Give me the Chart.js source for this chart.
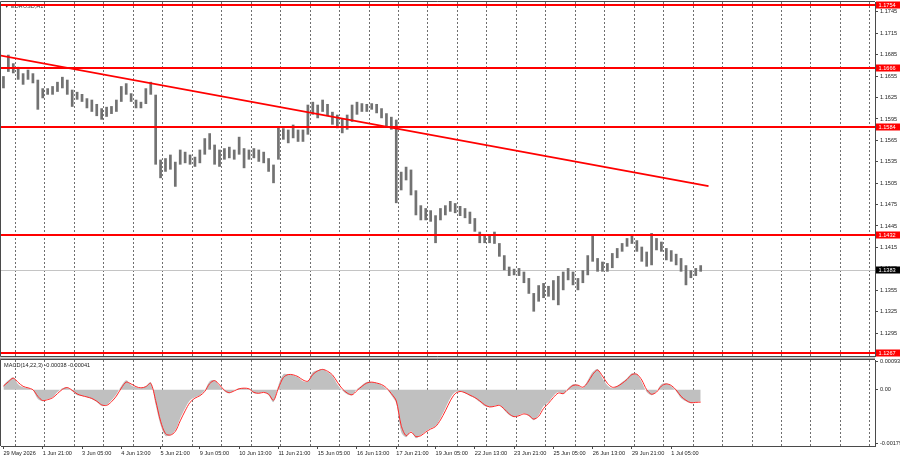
<!DOCTYPE html>
<html><head><meta charset="utf-8">
<script src="https://cdn.jsdelivr.net/npm/chart.js"></script>
<style>
html,body{margin:0;padding:0;background:#fff;width:900px;height:460px;overflow:hidden}
#w1{position:absolute;left:0;top:0;width:900px;height:357px}
#w2{position:absolute;left:0;top:357px;width:900px;height:103px}
</style></head><body>
<div id="w1"><canvas id="c1"></canvas></div>
<div id="w2"><canvas id="c2"></canvas></div>
<script>
// ---- data (EURUSD H1, grouped into 4-hour ranges) ----
const tickLabels = ['29 May 2026','1 Jun 21:00','3 Jun 05:00','4 Jun 13:00','5 Jun 21:00','9 Jun 05:00',
  '10 Jun 13:00','11 Jun 21:00','15 Jun 05:00','16 Jun 13:00','17 Jun 21:00','19 Jun 05:00',
  '22 Jun 13:00','23 Jun 21:00','25 Jun 05:00','26 Jun 13:00','29 Jun 21:00','1 Jul 05:00'];

const barHighs = [1.1655,1.1685,1.1673,1.1668,1.1659,1.1664,1.1659,1.1650,1.1638,1.1638,
  1.1641,1.1647,1.1654,1.1650,1.1636,1.1633,1.1630,1.1624,1.1622,1.1616,
  1.1610,1.1612,1.1613,1.1622,1.1641,1.1645,1.1631,1.1622,1.1619,1.1638,
  1.1647,1.1629,1.1538,1.1540,1.1545,1.1535,1.1552,1.1549,1.1545,1.1542,
  1.1552,1.1568,1.1575,1.1559,1.1552,1.1554,1.1556,1.1552,1.1570,1.1554,
  1.1552,1.1554,1.1552,1.1549,1.1540,1.1531,1.1584,1.1582,1.1580,1.1587,
  1.1580,1.1580,1.1615,1.1619,1.1615,1.1622,1.1616,1.1605,1.1601,1.1596,
  1.1601,1.1615,1.1619,1.1617,1.1616,1.1617,1.1616,1.1610,1.1603,1.1598,
  1.1594,1.1521,1.1528,1.1524,1.1495,1.1474,1.1470,1.1467,1.1460,1.1470,
  1.1474,1.1480,1.1477,1.1473,1.1470,1.1465,1.1456,1.1437,1.1432,1.1431,
  1.1437,1.1421,1.1404,1.1388,1.1385,1.1386,1.1381,1.1372,1.1351,1.1362,
  1.1365,1.1361,1.1369,1.1375,1.1381,1.1386,1.1381,1.1372,1.1383,1.1404,
  1.1432,1.1400,1.1395,1.1393,1.1407,1.1414,1.1421,1.1428,1.1431,1.1425,
  1.1416,1.1409,1.1435,1.1428,1.1423,1.1414,1.1411,1.1406,1.1400,1.1390,
  1.1383,1.1386,1.1390];

const barLows = [1.1638,1.1661,1.1659,1.1650,1.1643,1.1650,1.1645,1.1608,1.1624,1.1629,
  1.1629,1.1633,1.1638,1.1629,1.1612,1.1622,1.1619,1.1610,1.1605,1.1599,
  1.1594,1.1598,1.1602,1.1605,1.1619,1.1629,1.1619,1.1610,1.1610,1.1616,
  1.1629,1.1531,1.1512,1.1521,1.1524,1.1500,1.1531,1.1533,1.1531,1.1528,
  1.1533,1.1545,1.1552,1.1531,1.1528,1.1538,1.1540,1.1538,1.1545,1.1526,
  1.1538,1.1540,1.1535,1.1533,1.1521,1.1505,1.1538,1.1566,1.1561,1.1568,
  1.1563,1.1563,1.1573,1.1601,1.1596,1.1605,1.1599,1.1587,1.1582,1.1575,
  1.1580,1.1591,1.1601,1.1605,1.1605,1.1608,1.1603,1.1596,1.1584,1.1580,
  1.1477,1.1495,1.1509,1.1488,1.1460,1.1453,1.1453,1.1451,1.1421,1.1453,
  1.1460,1.1465,1.1463,1.1459,1.1456,1.1448,1.1437,1.1421,1.1421,1.1421,
  1.1420,1.1402,1.1383,1.1375,1.1376,1.1375,1.1365,1.1350,1.1325,1.1339,
  1.1344,1.1346,1.1341,1.1334,1.1355,1.1369,1.1362,1.1355,1.1365,1.1376,
  1.1395,1.1381,1.1381,1.1381,1.1386,1.1400,1.1409,1.1416,1.1420,1.1409,
  1.1395,1.1388,1.1390,1.1411,1.1409,1.1397,1.1395,1.1390,1.1381,1.1362,
  1.1372,1.1375,1.1381];

const macdMain = [0.00015,0.00031,0.00041,0.00018,0.00008,0.00005,-0.00002,-0.00031,-0.00038,-0.00031,
  -0.00025,-0.00008,0.00005,0.00008,-0.00005,-0.00018,-0.00021,-0.00025,-0.00031,-0.00041,
  -0.00054,-0.00051,-0.00035,-0.00015,0.00012,0.00031,0.00015,0.00008,0.00005,0.00012,
  0.00025,-0.00051,-0.00117,-0.00153,-0.00150,-0.00134,-0.00094,-0.00061,-0.00035,-0.00025,
  -0.00018,-0.00002,0.00028,0.00031,0.00012,-0.00005,-0.00012,-0.00002,0.00005,0.00005,
  0.00002,-0.00012,-0.00012,-0.00008,-0.00018,-0.00041,0.00015,0.00051,0.00051,0.00048,
  0.00041,0.00028,0.00028,0.00058,0.00064,0.00068,0.00058,0.00045,0.00018,-0.00002,
  -0.00015,-0.00018,0.00002,0.00015,0.00025,0.00025,0.00021,0.00015,0.00002,-0.00018,
  -0.00045,-0.00140,-0.00157,-0.00137,-0.00160,-0.00150,-0.00137,-0.00127,-0.00120,-0.00094,
  -0.00061,-0.00028,-0.00008,-0.00005,-0.00012,-0.00021,-0.00028,-0.00041,-0.00054,-0.00058,
  -0.00054,-0.00051,-0.00068,-0.00084,-0.00091,-0.00084,-0.00078,-0.00087,-0.00101,-0.00084,
  -0.00054,-0.00041,-0.00021,-0.00008,-0.00015,0.00005,0.00018,0.00015,0.00005,0.00031,
  0.00058,0.00068,0.00038,0.00015,0.00005,0.00012,0.00025,0.00038,0.00054,0.00051,
  0.00025,-0.00008,-0.00018,-0.00005,0.00018,0.00021,0.00012,-0.00005,-0.00028,-0.00038,
  -0.00045,-0.00041,-0.00038];

const macdSignal = [0.00012,0.00026,0.00038,0.00024,0.00011,0.00006,0.00000,-0.00022,-0.00036,-0.00033,
  -0.00027,-0.00013,0.00001,0.00007,-0.00002,-0.00014,-0.00020,-0.00024,-0.00029,-0.00038,
  -0.00050,-0.00052,-0.00040,-0.00021,0.00005,0.00025,0.00019,0.00010,0.00006,0.00010,
  0.00021,-0.00036,-0.00104,-0.00145,-0.00150,-0.00138,-0.00103,-0.00070,-0.00042,-0.00028,
  -0.00020,-0.00006,0.00020,0.00030,0.00016,-0.00002,-0.00010,-0.00004,0.00003,0.00005,
  0.00003,-0.00009,-0.00012,-0.00009,-0.00015,-0.00035,0.00005,0.00040,0.00050,0.00049,
  0.00043,0.00032,0.00028,0.00050,0.00062,0.00067,0.00061,0.00049,0.00025,0.00003,
  -0.00011,-0.00017,-0.00003,0.00011,0.00022,0.00025,0.00022,0.00017,0.00006,-0.00013,
  -0.00037,-0.00118,-0.00152,-0.00140,-0.00155,-0.00152,-0.00140,-0.00130,-0.00122,-0.00100,
  -0.00070,-0.00037,-0.00013,-0.00006,-0.00010,-0.00018,-0.00026,-0.00037,-0.00050,-0.00057,
  -0.00055,-0.00052,-0.00064,-0.00080,-0.00089,-0.00086,-0.00080,-0.00085,-0.00097,-0.00088,
  -0.00062,-0.00045,-0.00026,-0.00011,-0.00013,0.00001,0.00014,0.00015,0.00008,0.00024,
  0.00050,0.00065,0.00045,0.00021,0.00008,0.00011,0.00021,0.00034,0.00050,0.00051,
  0.00032,0.00000,-0.00015,-0.00008,0.00012,0.00019,0.00014,-0.00001,-0.00022,-0.00035,
  -0.00043,-0.00042,-0.00041];

const priceTicks = [1.1745,1.1715,1.1685,1.1655,1.1625,1.1595,1.1565,1.1535,1.1505,1.1475,
  1.1445,1.1415,1.1385,1.1355,1.1325,1.1295,1.1265];
const macdTicks = [0.00093, 0, -0.00179];
const levelLines = [1.1754, 1.1666, 1.1584, 1.1432, 1.1267];
const currentPrice = 1.1383;
const trendFrom = {index: -0.7, price: 1.1684};
const trendTo = {index: 143.6, price: 1.1501};
const symbolTitle = '\u25BC EURUSD,H1';
const macdTitle = 'MACD(14,22,3) -0.00038 -0.00041';

// ---- layout constants ----
const SLOTS = 178, LABEL_EVERY = 8, GRID_EVERY = 6, GRID_START = 2.35;
const AXIS_W = 25;
const FONT_FAMILY = "'Liberation Sans', Arial, sans-serif";
const FONT = {family: FONT_FAMILY, size: 5.6};
const TXT = '#222';
const FRAME = '#4a4a4a';

const categories = [];
for (let i = 0; i < SLOTS; i++) {
  const k = i / LABEL_EVERY;
  categories.push(i % LABEL_EVERY === 0 && k < tickLabels.length ? tickLabels[k] : '');
}

function drawDashedGrid(ctx, x, a) {
  ctx.save();
  ctx.beginPath(); ctx.rect(a.left, a.top, a.right - a.left, a.bottom - a.top); ctx.clip();
  ctx.strokeStyle = '#6e6e6e'; ctx.lineWidth = 1; ctx.setLineDash([2, 2]);
  for (let v = GRID_START; v < SLOTS; v += GRID_EVERY) {
    const px = Math.round(x.getPixelForValue(v)) + 0.5;
    ctx.beginPath(); ctx.moveTo(px, a.top); ctx.lineTo(px, a.bottom); ctx.stroke();
  }
  ctx.restore();
}
function priceBox(ctx, a, yc, text, bg) {
  ctx.save();
  ctx.fillStyle = bg;
  ctx.fillRect(a.right + 1, Math.round(yc) - 3.5, AXIS_W - 1, 7);
  ctx.fillStyle = '#fff';
  ctx.font = FONT.size + 'px ' + FONT_FAMILY;
  ctx.textBaseline = 'middle'; ctx.textAlign = 'left';
  ctx.fillText(text, a.right + 3.5, Math.round(yc));
  ctx.restore();
}

const mainDecor = {
  id: 'mainDecor',
  beforeDatasetsDraw(chart) {
    const {ctx, chartArea: a, scales: {x, y}} = chart;
    drawDashedGrid(ctx, x, a);
    ctx.save();
    const yp = Math.round(y.getPixelForValue(currentPrice)) + 0.5;
    ctx.strokeStyle = '#c4c4c4'; ctx.lineWidth = 1;
    ctx.beginPath(); ctx.moveTo(a.left, yp); ctx.lineTo(a.right, yp); ctx.stroke();
    ctx.fillStyle = '#333';
    ctx.font = FONT.size + 'px ' + FONT_FAMILY;
    ctx.textBaseline = 'middle'; ctx.textAlign = 'left';
    ctx.fillText(symbolTitle, a.left + 3, a.top + 4.5);
    ctx.restore();
  },
  afterDatasetsDraw(chart) {
    const {ctx, chartArea: a, scales: {x, y}} = chart;
    ctx.save();
    ctx.beginPath(); ctx.rect(a.left, a.top, a.right - a.left, a.bottom - a.top); ctx.clip();
    ctx.strokeStyle = '#ff0000'; ctx.lineWidth = 2; ctx.setLineDash([]);
    levelLines.forEach(p => {
      const yp = Math.round(y.getPixelForValue(p));
      ctx.beginPath(); ctx.moveTo(a.left, yp); ctx.lineTo(a.right, yp); ctx.stroke();
    });
    ctx.lineWidth = 1.8;
    ctx.beginPath();
    ctx.moveTo(x.getPixelForValue(trendFrom.index), y.getPixelForValue(trendFrom.price));
    ctx.lineTo(x.getPixelForValue(trendTo.index), y.getPixelForValue(trendTo.price));
    ctx.stroke();
    ctx.restore();
  },
  afterDraw(chart) {
    const {ctx, chartArea: a, scales: {y}} = chart;
    ctx.save();
    ctx.strokeStyle = FRAME; ctx.lineWidth = 1;
    ctx.beginPath();
    ctx.moveTo(a.left - 0.5, a.bottom + 0.5); ctx.lineTo(a.left - 0.5, a.top - 0.5); ctx.lineTo(a.right, a.top - 0.5);
    ctx.moveTo(a.left - 0.5, a.bottom + 0.5); ctx.lineTo(a.right, a.bottom + 0.5);
    ctx.stroke();
    ctx.restore();
    levelLines.forEach(p => priceBox(ctx, a, y.getPixelForValue(p), p.toFixed(4), '#ff0000'));
    priceBox(ctx, a, y.getPixelForValue(currentPrice), currentPrice.toFixed(4), '#000000');
  }
};

const macdDecor = {
  id: 'macdDecor',
  beforeDraw(chart) {
    const {ctx, chartArea: a} = chart;
    ctx.save();
    ctx.fillStyle = '#a8a8a8';
    ctx.fillRect(0, 0.5, a.right, a.top - 1);
    ctx.restore();
  },
  beforeDatasetsDraw(chart) {
    const {ctx, chartArea: a, scales: {x}} = chart;
    drawDashedGrid(ctx, x, a);
  },
  afterDatasetsDraw(chart) {
    const {ctx, chartArea: a} = chart;
    ctx.save();
    ctx.fillStyle = '#222';
    ctx.font = FONT.size + 'px ' + FONT_FAMILY;
    ctx.textBaseline = 'middle'; ctx.textAlign = 'left';
    ctx.fillText(macdTitle, a.left + 3, a.top + 5);
    ctx.strokeStyle = FRAME; ctx.lineWidth = 1;
    ctx.beginPath();
    ctx.moveTo(a.left - 0.5, a.bottom); ctx.lineTo(a.left - 0.5, a.top - 0.5); ctx.lineTo(a.right, a.top - 0.5);
    ctx.stroke();
    ctx.restore();
  }
};

Chart.defaults.font.family = FONT_FAMILY;

new Chart(document.getElementById('c1'), {
  type: 'bar',
  data: {
    labels: categories,
    datasets: [{
      data: barLows.map((l, i) => [l, barHighs[i]]),
      backgroundColor: '#727272', borderWidth: 0,
      barPercentage: 0.55, categoryPercentage: 1
    }]
  },
  options: {
    responsive: true, maintainAspectRatio: false, animation: false, devicePixelRatio: 1,
    layout: {padding: {left: 1, top: 2, bottom: 1, right: 0}},
    plugins: {legend: {display: false}, tooltip: {enabled: false}},
    scales: {
      x: {type: 'category', offset: true, display: false, grid: {offset: false}},
      y: {
        position: 'right', min: 1.12628, max: 1.17589,
        afterBuildTicks: s => { s.ticks = priceTicks.map(v => ({value: v})); },
        afterFit: s => { s.width = AXIS_W; s.paddingTop = 0; s.paddingBottom = 0; },
        ticks: {autoSkip: false, font: FONT, color: TXT, padding: 2, callback: v => Number(v).toFixed(4)},
        grid: {drawOnChartArea: false, tickLength: 3, color: FRAME},
        border: {color: FRAME}
      }
    }
  },
  plugins: [mainDecor]
});

new Chart(document.getElementById('c2'), {
  type: 'line',
  data: {
    labels: categories,
    datasets: [
      {data: macdMain, fill: 'origin', backgroundColor: '#c0c0c0', borderColor: 'rgba(0,0,0,0)', borderWidth: 0,
       pointRadius: 0, tension: 0.3, order: 2},
      {data: macdSignal, fill: false, borderColor: '#ff2a2a', borderWidth: 1, pointRadius: 0, tension: 0.3, order: 1}
    ]
  },
  options: {
    responsive: true, maintainAspectRatio: false, animation: false, devicePixelRatio: 1,
    layout: {padding: {left: 1, top: 3, bottom: 0, right: 0}},
    plugins: {legend: {display: false}, tooltip: {enabled: false}},
    scales: {
      x: {
        type: 'category', offset: true,
        afterBuildTicks: s => { s.ticks = s.ticks.filter(t => t.value % LABEL_EVERY === 0 && t.value / LABEL_EVERY < tickLabels.length); },
        afterFit: s => { s.height = 14; s.paddingLeft = 0; s.paddingRight = 0; },
        ticks: {autoSkip: false, maxRotation: 0, minRotation: 0, align: 'start', font: FONT, color: TXT, padding: 1,
          callback: function (v) { return this.getLabelForValue(v); }},
        grid: {drawOnChartArea: false, offset: false, tickLength: 3, color: FRAME},
        border: {color: FRAME}
      },
      y: {
        position: 'right', min: -0.00186, max: 0.00098,
        afterBuildTicks: s => { s.ticks = macdTicks.map(v => ({value: v})); },
        afterFit: s => { s.width = AXIS_W; s.paddingTop = 0; s.paddingBottom = 0; },
        ticks: {autoSkip: false, font: FONT, color: TXT, padding: 2,
          callback: v => (Number(v) === 0 ? '0.00' : Number(v).toFixed(5))},
        grid: {drawOnChartArea: false, tickLength: 3, color: FRAME},
        border: {color: FRAME}
      }
    }
  },
  plugins: [macdDecor]
});
</script>
</body></html>
